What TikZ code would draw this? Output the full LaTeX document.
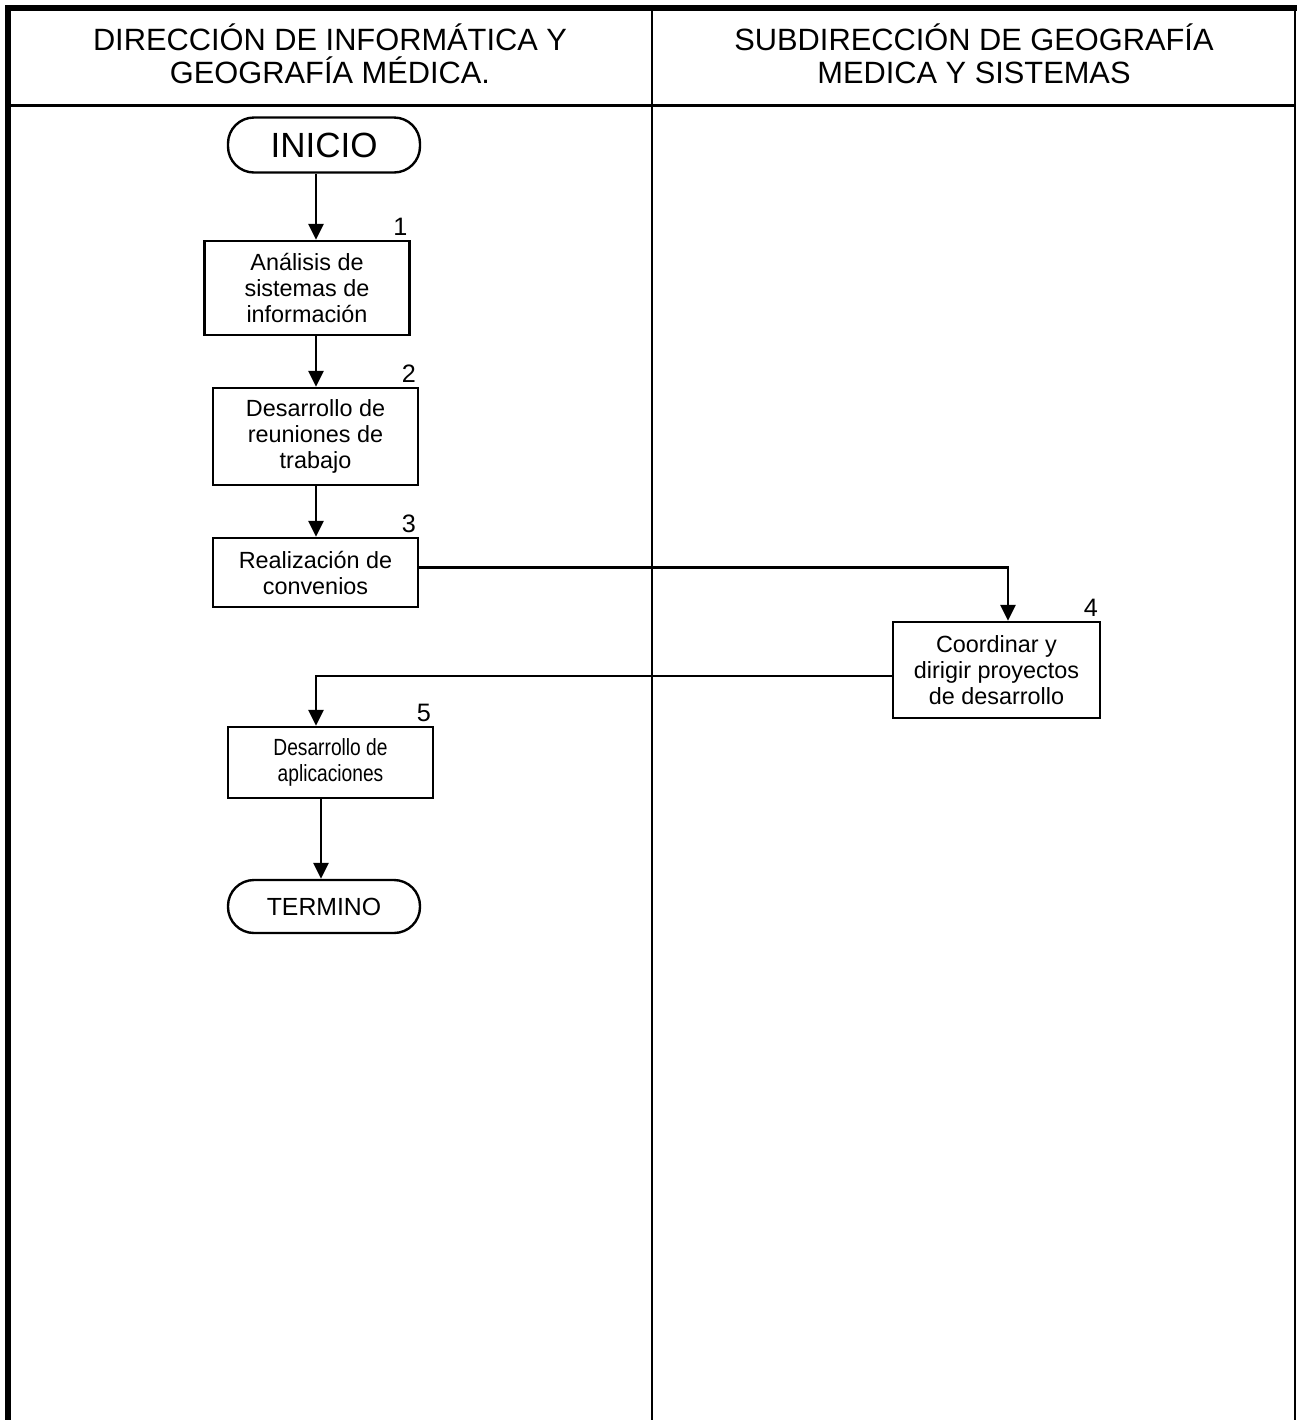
\documentclass[tikz,border=0pt]{standalone}
\usepackage{fontspec}
\setmainfont{Liberation Sans}
\newfontfamily\narrowfont[FakeStretch=0.82]{Liberation Sans}
\usepackage{tikz}
\usetikzlibrary{arrows.meta,positioning}

\begin{document}
\begin{tikzpicture}[
  x=0.5pt,y=-0.5pt,
  border/.style={draw=black,line width=3.2pt},
  divider/.style={draw=black,line width=1.2pt},
  header/.style={align=center,font=\fontsize{15.4}{16.5}\selectfont},
  task/.style={rectangle,draw=black,line width=1.2pt,minimum width=102.5pt,
               align=center,inner sep=2pt,font=\fontsize{11.7}{13}\selectfont},
  terminal/.style={rectangle,rounded corners=13pt,draw=black,line width=1.2pt,
                   minimum width=96pt,align=center},
  num/.style={anchor=south east,inner sep=1pt,xshift=-0.5pt,yshift=1pt,font=\fontsize{12.6}{12.6}\selectfont},
  arrow/.style={-{Triangle[length=8pt,width=7.5pt]},line width=1.35pt}
]
  \useasboundingbox (0,0) rectangle (1297,1420);

  % swimlane frame
  \draw[border] (5,8) -- (1297,8);
  \draw[border] (8,5) -- (8,1420);
  \draw[divider,line width=0.7pt] (1295,8) -- (1295,1420);
  \draw[divider] (652,8) -- (652,1420);
  \draw[divider,line width=1.5pt] (8,105) -- (1295,105);

  \node[header] (dirinfo) at (330,54) {DIRECCIÓN DE INFORMÁTICA Y\\GEOGRAFÍA MÉDICA.};
  \node[header] (subgeo) at (974,54) {SUBDIRECCIÓN DE GEOGRAFÍA\\MEDICA Y SISTEMAS};

  % flow
  \node[terminal,minimum height=27.5pt,font=\fontsize{17.5}{17.5}\selectfont] (inicio) at (324,145) {INICIO};
  \node[task,minimum height=47pt,label={[num]north east:1}] (analisis) at (307,288) {Análisis de\\sistemas de\\información};
  \node[task,minimum height=48.5pt,label={[num]north east:2}] (reuniones) at (315.5,436.5) {Desarrollo de\\reuniones de\\trabajo};
  \node[task,minimum height=34.5pt,label={[num]north east:3}] (convenios) at (315.5,572.5) {Realización de\\convenios};
  \node[task,minimum height=48pt,minimum width=103.5pt,label={[num]north east:4}] (proyectos) at (996.5,670) {Coordinar y\\dirigir proyectos\\de desarrollo};
  \node[task,minimum height=35.5pt,font=\narrowfont\fontsize{11.7}{13}\selectfont,label={[num]north east:5}] (aplicaciones) at (330.5,762.5) {Desarrollo de\\aplicaciones};
  \node[terminal,minimum height=26.5pt,font=\fontsize{12.4}{12.4}\selectfont] (termino) at (324,906.5) {TERMINO};

  \coordinate (lane) at (316,0);
  \draw[arrow] (inicio.south -| lane) -- (analisis.north -| lane);
  \draw[arrow] (analisis.south -| lane) -- (reuniones.north -| lane);
  \draw[arrow] (reuniones.south -| lane) -- (convenios.north -| lane);
  \draw[arrow] ([yshift=2.5pt]convenios.east) -| ([xshift=5.75pt]proyectos.north);
  \draw[arrow] ([yshift=-3pt]proyectos.west) -| (aplicaciones.north -| lane);
  \draw[arrow] ([xshift=-4.75pt]aplicaciones.south) -- ([xshift=-1.5pt]termino.north);
\end{tikzpicture}
\end{document}
